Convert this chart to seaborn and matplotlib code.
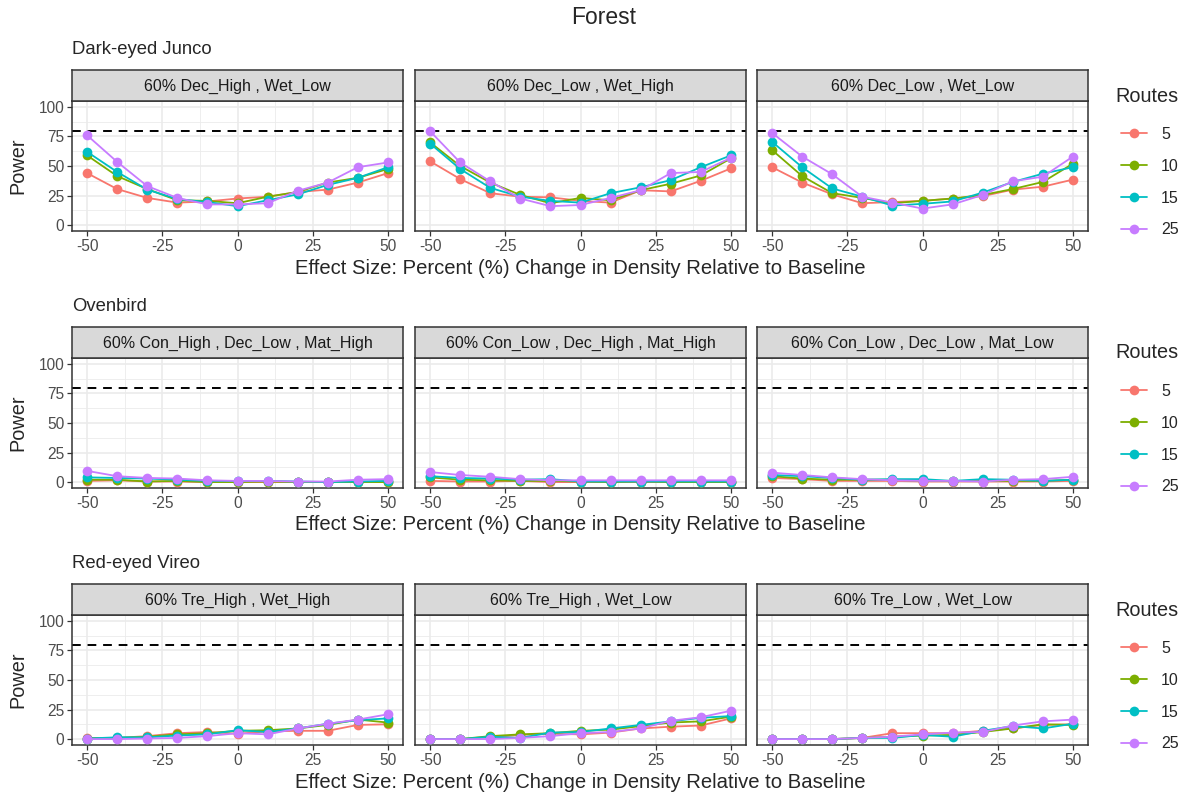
import numpy as np
import pandas as pd
import matplotlib
matplotlib.use('Agg')
import matplotlib.pyplot as plt
from matplotlib.ticker import MultipleLocator
import seaborn as sns

# --- values (Power, %) ---
EFFECT = [-50, -40, -30, -20, -10, 0, 10, 20, 30, 40, 50]
ROUTES = ['5', '10', '15', '25']
PALETTE = {'5': '#F8766D', '10': '#7CAE00', '15': '#00BFC4', '25': '#C77CFF'}

SPECIES = ['Dark-eyed Junco', 'Ovenbird', 'Red-eyed Vireo']
STRIPS = [
    ['60% Dec_High , Wet_Low', '60% Dec_Low , Wet_High', '60% Dec_Low , Wet_Low'],
    ['60% Con_High , Dec_Low , Mat_High', '60% Con_Low , Dec_High , Mat_High', '60% Con_Low , Dec_Low , Mat_Low'],
    ['60% Tre_High , Wet_High', '60% Tre_High , Wet_Low', '60% Tre_Low , Wet_Low'],
]

junco_dechigh_wetlow = {
    '5':  [44, 30.5, 23, 19, 20, 22.5, 24, 28, 30, 36, 44],
    '10': [59, 41.5, 30.5, 21, 20.5, 18.5, 24, 28, 36, 40, 47.5],
    '15': [62, 45, 30, 22, 19.5, 16, 21, 26, 34, 40, 49],
    '25': [76, 53.5, 33, 23, 17.5, 17.5, 18.5, 29, 36, 49, 53],
}
junco_declow_wethigh = {
    '5':  [54, 39, 27, 24, 23.5, 20.5, 19, 29.5, 28.5, 37.5, 48],
    '10': [70, 50, 36, 25.5, 18.5, 23, 21, 29.5, 35, 42, 56.5],
    '15': [69, 47.5, 31.5, 24, 20.5, 19, 27, 32, 38, 49, 59],
    '25': [79.5, 53, 37, 22.5, 16, 17, 23, 29.5, 44, 45, 57],
}
junco_declow_wetlow = {
    '5':  [49, 36, 26, 18.5, 19.5, 20.5, 22.5, 24.5, 30, 32.5, 38.5],
    '10': [63.5, 41.5, 27, 23, 18.5, 20.5, 22.5, 25.5, 30.5, 36.5, 52],
    '15': [70.5, 49, 31, 24, 16.5, 18, 20, 27.5, 36.5, 43.5, 49],
    '25': [78, 58, 43, 24, 19, 14, 17.5, 25.5, 37, 41, 58],
}
oven_conhigh_declow_mathigh = {
    '5':  [1, 1.5, 0.5, 0.5, 0, 0, 0, 0, 0, 0, 0.5],
    '10': [2, 2, 0.5, 1, 0, 0, 0.5, 0, 0, 0, 0],
    '15': [4, 3.5, 3, 2, 1, 1, 1, 0.5, 0, 0.5, 1],
    '25': [9.5, 5, 3.5, 3, 1.5, 1, 1, 0.5, 0.5, 2, 2.5],
}
oven_conlow_dechigh_mathigh = {
    '5':  [1, 0.5, 0.5, 1, 0, 0, 0, 0, 0, 0, 0],
    '10': [4, 2, 1.5, 1, 1, 0.5, 0, 0.5, 0, 0, 0],
    '15': [5, 3.5, 3, 2, 2.5, 0.5, 0.5, 0.5, 0.5, 0.5, 0.5],
    '25': [8.5, 6, 4.5, 2.5, 1.5, 1.5, 1.5, 1.5, 1.5, 1.5, 1.5],
}
oven_conlow_declow_matlow = {
    '5':  [3.5, 2.5, 1, 1, 1, 0.5, 0.5, 0.5, 0.5, 0.5, 1],
    '10': [5, 3, 2, 2, 2, 1, 1, 1, 1, 1, 2],
    '15': [6, 5, 3.5, 2, 2.5, 2.5, 1, 2.5, 2, 1, 2],
    '25': [8, 6, 4, 2.5, 1.5, 1, 1, 0.5, 2, 2.5, 4.5],
}
vireo_trehigh_wethigh = {
    '5':  [1, 1, 2.5, 5, 6, 4.5, 6.5, 7, 7, 12, 12.5],
    '10': [0.5, 1, 2, 4, 5, 7, 7.5, 9, 12, 16.5, 14],
    '15': [0.5, 1.5, 1.5, 3, 4, 7.5, 6, 9, 13, 16, 17.5],
    '25': [0, 0, 0.5, 1, 2.5, 5, 4, 9, 13, 16.5, 21],
}
vireo_trehigh_wetlow = {
    '5':  [0, 0, 1.5, 3.5, 4.5, 4, 5.5, 9, 10.5, 11.5, 17.5],
    '10': [0, 0, 2.5, 4, 5, 7, 8, 11, 14, 15, 19],
    '15': [0, 0, 2, 1, 5.5, 6, 9, 12, 15, 18, 19.5],
    '25': [0, 0, 0, 1, 2.5, 5, 6, 9, 15.5, 18.5, 24],
}
vireo_trelow_wetlow = {
    '5':  [0, 0, 0, 1, 5, 5, 5, 7, 9, 12, 12.5],
    '10': [0, 0, 0, 1, 2, 3, 3.5, 6, 9, 12.5, 12],
    '15': [0, 0, 0, 1, 1, 3.5, 2, 7, 11, 9, 13],
    '25': [0, 0, 0, 1, 2, 4, 5.5, 6, 11.5, 15, 16.5],
}

PANELS = [
    [junco_dechigh_wetlow, junco_declow_wethigh, junco_declow_wetlow],
    [oven_conhigh_declow_mathigh, oven_conlow_dechigh_mathigh, oven_conlow_declow_matlow],
    [vireo_trehigh_wethigh, vireo_trehigh_wetlow, vireo_trelow_wetlow],
]


def to_long(panel):
    rows = []
    for r in ROUTES:
        for x, y in zip(EFFECT, panel[r]):
            rows.append({'Effect': x, 'Power': y, 'Routes': r})
    return pd.DataFrame(rows)


sns.set_theme(style='white')
plt.rcParams['font.family'] = ['Liberation Sans', 'DejaVu Sans']
plt.rcParams['axes.unicode_minus'] = False

W, H = 1189, 796
fig = plt.figure(figsize=(W / 100, H / 100), dpi=100)
fig.patch.set_facecolor('white')


def box(x, top, w, h):
    # pixel box -> figure fraction
    return [x / W, 1 - (top + h) / H, w / W, h / H]


PANEL_X = [72, 415, 757]
PANEL_W = 331
ROW_TOP = [101, 358, 615]
PANEL_H = 130
STRIP_H = 31
BORDER = '#333333'

fig.text(604 / W, 1 - 18 / H, 'Forest', ha='center', va='center', fontsize=16.5)

for i in range(3):
    top = ROW_TOP[i]
    fig.text(72 / W, 1 - (top - 52) / H, SPECIES[i], ha='left', va='center', fontsize=13.3)
    for j in range(3):
        ax = fig.add_axes(box(PANEL_X[j], top, PANEL_W, PANEL_H))
        df = to_long(PANELS[i][j])
        ax.axhline(80, color='black', linestyle=(0, (4.5, 3.5)), linewidth=1.4, zorder=1)
        sns.lineplot(data=df, x='Effect', y='Power', hue='Routes', hue_order=ROUTES,
                     palette=PALETTE, marker='o', markersize=7, markeredgewidth=0,
                     linewidth=1.3, ax=ax, zorder=3)
        handles, labels = ax.get_legend_handles_labels()
        ax.get_legend().remove()

        ax.set_xlim(-55, 55)
        ax.set_ylim(-5, 105)
        ax.xaxis.set_major_locator(MultipleLocator(25))
        ax.xaxis.set_minor_locator(MultipleLocator(12.5))
        ax.yaxis.set_major_locator(MultipleLocator(25))
        ax.yaxis.set_minor_locator(MultipleLocator(12.5))
        ax.grid(which='major', color='#EBEBEB', linewidth=1.2, zorder=0)
        ax.grid(which='minor', color='#EBEBEB', linewidth=0.6, zorder=0)
        ax.set_axisbelow(True)
        for s in ax.spines.values():
            s.set_color(BORDER)
            s.set_linewidth(1.1)
        ax.tick_params(which='major', length=3.5, width=0.9, color=BORDER,
                       labelsize=11.2, labelcolor='#4D4D4D', pad=2,
                       bottom=True, left=(j == 0))
        ax.tick_params(which='minor', length=0)
        ax.set_xlabel('')
        ax.set_ylabel('')
        if j > 0:
            ax.set_yticklabels([])

        sax = fig.add_axes(box(PANEL_X[j], top - STRIP_H, PANEL_W, STRIP_H))
        sax.set_facecolor('#D9D9D9')
        sax.set_xticks([])
        sax.set_yticks([])
        for s in sax.spines.values():
            s.set_color(BORDER)
            s.set_linewidth(1.1)
        sax.text(0.5, 0.48, STRIPS[i][j], ha='center', va='center', fontsize=11.5,
                 color='#1A1A1A', transform=sax.transAxes)

    fig.text(18 / W, 1 - (top + 65) / H, 'Power', rotation=90, ha='center',
             va='center', fontsize=14.3)
    fig.text(580 / W, 1 - (top + 167) / H,
             'Effect Size: Percent (%) Change in Density Relative to Baseline',
             ha='center', va='center', fontsize=14.6)
    fig.text(1115 / W, 1 - (top - 5) / H, 'Routes', ha='left', va='center', fontsize=14.3)
    fig.legend(handles, labels, loc='upper left',
               bbox_to_anchor=(1121 / W, 1 - (top + 26) / H), frameon=False,
               fontsize=11.5, labelspacing=1.05, borderpad=0, borderaxespad=0,
               handlelength=1.6, handletextpad=0.9)

fig.savefig('out.png', dpi=100, facecolor='white')
